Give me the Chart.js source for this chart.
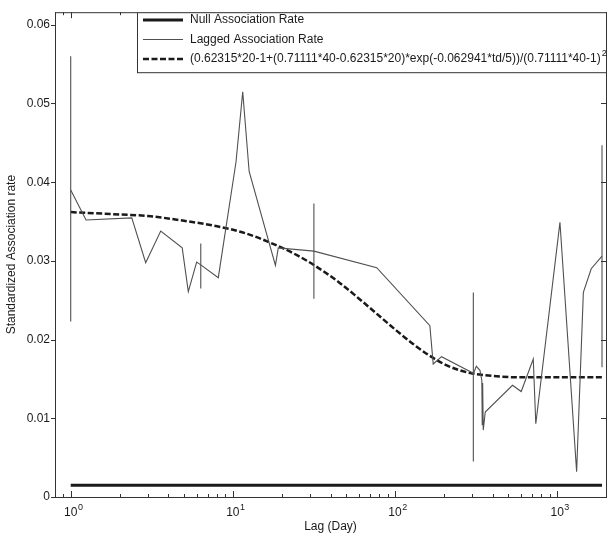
<!DOCTYPE html>
<html lang="en">
<head>
    <meta charset="UTF-8">
    <title>Standardized Association Rate</title>
    <script src="https://cdn.jsdelivr.net/npm/chart.js"></script>
    <style>
        body {
            margin: 0;
            padding: 0;
            background-color: #ffffff;
        }

        .chart-container {
            position: relative;
            width: 610px;
            height: 537px;
        }
    </style>
</head>
<body>
    <div class="chart-container">
        <canvas id="rateChart" width="610" height="537"></canvas>
    </div>
    <script>
        // values
        const nullLag = [1, 1890];
        const nullRate = [0.0015, 0.0015];

        const laggedLag = [1, 1.243, 2.38, 2.9, 3.59, 4.87, 5.31, 5.98, 6.34, 8.13, 10.46, 11.5, 12.6, 18.3, 19.05,
            31.6, 77.1, 164, 172, 193.5, 296, 304, 317, 334, 343, 345, 347, 350, 360, 530, 600, 712, 738,
            1040, 1318, 1450, 1621, 1890];
        const laggedRate = [0.0390, 0.0352, 0.03546, 0.02977, 0.0338, 0.03166, 0.0261, 0.02985, 0.0295, 0.02787, 0.0426, 0.0515, 0.04136, 0.02943, 0.03166,
            0.03124, 0.02913, 0.02176, 0.0169, 0.01783, 0.01585, 0.01565, 0.0166, 0.0161, 0.0148, 0.0092, 0.0145, 0.0085, 0.0108, 0.0142, 0.0134, 0.01754, 0.0093,
            0.0349, 0.0032, 0.0260, 0.0290, 0.0306];

        const errLag = [1, 6.34, 31.6, 304, 1890];
        const errLow = [0.0223, 0.0265, 0.0252, 0.0045, 0.0165];
        const errHigh = [0.0560, 0.0322, 0.0373, 0.0260, 0.0447];

        const fitLag = [1, 2, 3, 5, 8, 12, 18, 25, 32, 45, 60, 77, 100, 130, 165, 200, 250, 300, 350, 450, 600, 1000, 1890];
        const fitRate = [0.0362, 0.0359, 0.0357, 0.0351, 0.0344, 0.0335, 0.0321, 0.0307, 0.0294, 0.0273, 0.0252, 0.0233,
            0.0213, 0.0194, 0.0179, 0.0169, 0.0161, 0.0157, 0.0155, 0.0153, 0.0152, 0.0152, 0.0152];

        const seriesNames = ['Null Association Rate', 'Lagged Association Rate',
            '(0.62315*20-1+(0.71111*40-0.62315*20)*exp(-0.062941*td/5))/(0.71111*40-1)'];
        const yTicks = [0, 0.01, 0.02, 0.03, 0.04, 0.05, 0.06];
        const xTicks = [1, 10, 100, 1000];
        const xTickExps = ['0', '1', '2', '3'];

        const pairs = (xs, ys) => xs.map((x, i) => ({ x: x, y: ys[i] }));

        const errPoints = [];
        errLag.forEach((x, i) => {
            errPoints.push({ x: x, y: errLow[i] });
            errPoints.push({ x: x, y: errHigh[i] });
            errPoints.push({ x: x, y: null });
        });

        const ink = '#1a1a1a';
        const gray = '#505050';
        const fontFamily = '"Liberation Sans", Arial, sans-serif';

        // minor tick values for the log axis
        const minorTicks = [];
        for (let d = 0.1; d <= 1000; d *= 10) {
            for (let m = 2; m <= 9; m++) minorTicks.push(Math.round(d * m * 1000) / 1000);
        }
        minorTicks.push(2000);

        const frame = {
            id: 'frame',
            afterDraw(chart) {
                const ctx = chart.ctx;
                const a = chart.chartArea;
                const xs = chart.scales.x;
                const ys = chart.scales.y;
                ctx.save();
                ctx.strokeStyle = '#333';
                ctx.lineWidth = 1;
                ctx.strokeRect(a.left + 0.5, a.top + 0.5, a.right - a.left, a.bottom - a.top);

                // inward x ticks, bottom and top
                const tick = (v, len) => {
                    if (v < xs.min || v > xs.max) return;
                    const px = Math.round(xs.getPixelForValue(v)) + 0.5;
                    ctx.beginPath();
                    ctx.moveTo(px, a.bottom);
                    ctx.lineTo(px, a.bottom - len);
                    ctx.moveTo(px, a.top);
                    ctx.lineTo(px, a.top + len);
                    ctx.stroke();
                };
                xTicks.forEach(v => tick(v, 6));
                minorTicks.forEach(v => tick(v, 3));

                // y ticks: left outward, right inward
                yTicks.forEach(v => {
                    const py = Math.round(ys.getPixelForValue(v)) + 0.5;
                    ctx.beginPath();
                    ctx.moveTo(a.left - 4, py);
                    ctx.lineTo(a.left, py);
                    ctx.moveTo(a.right, py);
                    ctx.lineTo(a.right - 5, py);
                    ctx.stroke();
                });

                // exponents on the 10^n labels
                ctx.fillStyle = ink;
                ctx.font = '12px ' + fontFamily;
                const baseW = ctx.measureText('10').width;
                ctx.font = '9px ' + fontFamily;
                ctx.textBaseline = 'alphabetic';
                xTicks.forEach((v, i) => {
                    const px = xs.getPixelForValue(v);
                    ctx.fillText(xTickExps[i], px + baseW / 2 + 0.5, a.bottom + 13);
                });

                // legend box
                const lx = 137, ly = a.top, lw = a.right - 137, lh = 60;
                ctx.fillStyle = '#fff';
                ctx.fillRect(lx, ly, lw, lh);
                ctx.strokeStyle = '#333';
                ctx.strokeRect(lx + 0.5, ly + 0.5, lw, lh);

                const rows = [20, 39.5, 59];
                const styles = [
                    { w: 3, c: ink, dash: [] },
                    { w: 1, c: gray, dash: [] },
                    { w: 2.5, c: ink, dash: [6, 2.5] }
                ];
                ctx.font = '12px ' + fontFamily;
                ctx.textBaseline = 'middle';
                rows.forEach((ry, i) => {
                    const s = styles[i];
                    ctx.beginPath();
                    ctx.setLineDash(s.dash);
                    ctx.lineWidth = s.w;
                    ctx.strokeStyle = s.c;
                    ctx.moveTo(143, ry);
                    ctx.lineTo(183, ry);
                    ctx.stroke();
                    ctx.setLineDash([]);
                    ctx.fillStyle = ink;
                    ctx.fillText(seriesNames[i], 190, ry);
                });
                // squared exponent on the formula
                const fw = ctx.measureText(seriesNames[2]).width;
                ctx.font = '9px ' + fontFamily;
                ctx.fillText('2', 190 + fw + 1, rows[2] - 5);
                ctx.restore();
            }
        };

        Chart.defaults.font.family = fontFamily;
        Chart.defaults.font.size = 12;
        Chart.defaults.color = ink;

        new Chart(document.getElementById('rateChart').getContext('2d'), {
            type: 'line',
            data: {
                datasets: [
                    {
                        label: seriesNames[0],
                        data: pairs(nullLag, nullRate),
                        borderColor: ink,
                        borderWidth: 3,
                        pointRadius: 0
                    },
                    {
                        label: seriesNames[1],
                        data: pairs(laggedLag, laggedRate),
                        borderColor: gray,
                        borderWidth: 1.1,
                        pointRadius: 0
                    },
                    {
                        label: 'error',
                        data: errPoints,
                        borderColor: gray,
                        borderWidth: 1.1,
                        pointRadius: 0,
                        spanGaps: false
                    },
                    {
                        label: seriesNames[2],
                        data: pairs(fitLag, fitRate),
                        borderColor: ink,
                        borderWidth: 2.5,
                        borderDash: [6, 2.5],
                        pointRadius: 0,
                        cubicInterpolationMode: 'monotone'
                    }
                ]
            },
            options: {
                responsive: false,
                animation: false,
                layout: {
                    padding: { top: 10, right: 4, left: 0, bottom: 0 }
                },
                scales: {
                    x: {
                        type: 'logarithmic',
                        min: 0.8,
                        max: 2000,
                        afterBuildTicks: scale => {
                            scale.ticks = xTicks.map(v => ({ value: v }));
                        },
                        afterFit: scale => { scale.height = 40; },
                        ticks: {
                            autoSkip: false,
                            maxRotation: 0,
                            padding: 8,
                            callback: () => '10'
                        },
                        grid: { drawOnChartArea: false, drawTicks: false },
                        border: { display: false },
                        title: {
                            display: true,
                            text: 'Lag (Day)',
                            padding: { top: 0, bottom: 3 }
                        }
                    },
                    y: {
                        min: 0,
                        max: 0.0616,
                        afterBuildTicks: scale => {
                            scale.ticks = yTicks.map(v => ({ value: v }));
                        },
                        afterFit: scale => { scale.width = 55; },
                        ticks: {
                            padding: 5,
                            callback: (v) => String(Math.round(v * 100) / 100)
                        },
                        grid: { drawOnChartArea: false, drawTicks: false },
                        border: { display: false },
                        title: {
                            display: true,
                            text: 'Standardized Association rate',
                            padding: { top: 4, bottom: 0 }
                        }
                    }
                },
                plugins: {
                    legend: { display: false },
                    tooltip: { enabled: false }
                }
            },
            plugins: [frame]
        });
    </script>
</body>
</html>
